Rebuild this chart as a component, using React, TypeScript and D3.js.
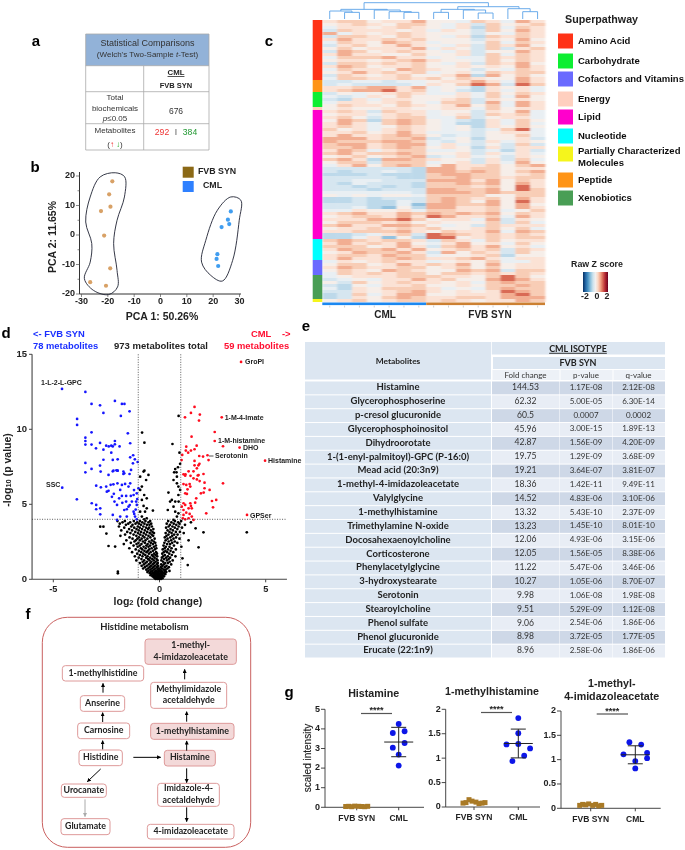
import React from "react";
import * as d3 from "d3";

const ARIAL = "'Liberation Sans', Arial, sans-serif";
const LATO = "Lato, sans-serif";

// Panel b
const pcaBrown = [[-18.3,18.2],[-19.5,13.8],[-19,9.6],[-22.6,8.1],[-21.4,-0.2],[-19.1,-11.3],[-26.7,-16],[-20.7,-17.2]];
const pcaBlue = [[26.7,8],[25.6,5.2],[26.1,3.7],[23.2,2.7],[21.6,-6.5],[21.3,-8.1],[21.9,-10.5]];
const hullBrown = [[-17.2,21.1],[-13.6,19.7],[-13.7,12.9],[-16.5,5],[-17.8,-2.9],[-16.5,-12],[-16.3,-17.6],[-19.7,-20.2],[-25.4,-18.8],[-28.9,-14.8],[-26.7,-9.2],[-26.1,-2.9],[-28.4,4.4],[-26.7,12.9],[-22.9,19.7]];
const hullBlue = [[26.7,12.9],[30.5,11.8],[29.9,5],[27.4,-8.6],[23.5,-15.6],[19.1,-13.7],[15.6,-9.2],[17.2,-1.8],[21.6,8.4]];

// Panel c
const heatRows = [
"677566855476486","567657754637567","466567654627476","376665646537586","846567655535476",
"377657654627676","686676755536585","476587645547476","367568654637685","575666846537367",
"387567654635586","686655755637476","477786645447676","566567865547576","377676754637685",
"687566755656586","476658765535476","568676745647677","376567556828575","477667675765586",
"334434456686486","343333465798397","667886845426564","678896745326464",
"354567644647576","434657555647485","326466556736565","466567547738486","576657656857486",
"565566556647566",
"676376645536584","566467645637674","675367744735664","587278754326475","686478754226474","676457654526575",
"756467654534794","667568644435664","686678753435574",
"888677834525563","877788743536465","788678846435373","778678756526366","687467744534263","786778755636464","567567834645365","786288765536374","577377745636485",
"468578758667578",
"333333288677566","323343288787578","222322278877567","333332277877677","334433388868576","324333277878586","332323277767596","333233388778597","444444388878777","545455477775577",
"223233378767586","223224378758596","333224188778585","334215288667586","446556477667457",
"678668787878576","567768698667486","666889756648365","577767565557374","786688754537666","566767675567574","667778657668487","223467398767676","224615299567677",
"787677637647566","686768546856475","777568637868564","687786856767376","568778638576375","677687745567255","686678766786466",
"465676645657446","577568676858566","687667756757566","576587655878377","476767757767676",
"456667776657975","345466867558986","537567665647877","325466755657787","426577764547877","336567865656987","237468855666897","236578766776888",
"567567767656687"];
const pathwayNames = ["Amino Acid","Carbohydrate","Cofactors and Vitamins","Energy","Lipid","Nucleotide","Partially Characterized","Peptide","Xenobiotics"];
const pathwayColors = ["#FF3319","#11EE33","#6B6BFF","#FFCFBF","#FF00CC","#00FFFF","#F5F51E","#FF9412","#4A9E55"];
const barOrder = ["Amino Acid","Peptide","Carbohydrate","Energy","Lipid","Nucleotide","Cofactors and Vitamins","Xenobiotics","Partially Characterized"];
const barCounts = [20,4,5,1,43,7,5,8,1];
const dendro: any = {h:49,c:[
  {h:29,c:[{h:24,c:[0,{h:20,c:[1,2]}]},{h:27,c:[3,{h:22,c:[4,{h:20,c:[5,6]}]}]}]},
  {h:37,c:[{h:29,c:[{h:20,c:[7,8]},{h:27,c:[9,{h:18,c:[10,11]}]}]},{h:31,c:[12,{h:22,c:[13,14]}]}]}
]};

// Panel d
const blueHits = [[-4.59,12.69],[-3.49,12.49],[-3.2,11.69],[-2.8,11.6],[-2.1,11.89],[-1.77,11.69],[-1.65,11.69],[-1.41,11.2],[-2.64,11.09],[-1.82,10.89],[-3.88,10.69],[-3.88,10.29],[-3.2,9.8],[-1.49,9.73],[-3.49,9.44],[-3.49,9.22],[-3.49,8.98],[-3.2,8.98],[-2.99,8.73],[-2.8,9.09],[-2.64,8.64],[-2.51,8.91],[-2.39,8.86],[-2.27,8.91],[-2.2,8.86],[-2.1,9.22],[-2.1,9],[-1.88,8.86],[-1.38,9.07],[-2.27,8.44],[-2.64,7.97],[-2.2,7.96],[-1.97,8],[-1.38,8.13],[-1.24,8.27],[-1.16,8],[-1.03,7.82],[-1.25,7.73],[-3.49,7.76],[-3.2,7.36],[-2.8,7.58],[-2.77,7.18],[-3.49,7.13],[-2.2,7.2],[-2.03,7.27],[-1.97,7.24],[-1.7,7.18],[-1.7,7.02],[-1.41,7.02],[-1.34,7.29],[-2.4,6.96],[-2.17,7.24],[-1.98,7.24],[-1.66,7.07],[-1.38,6.4],[-1.77,6.29],[-1.98,6.4],[-2.17,6.33],[-2.98,6.24],[-2.76,6.13],[-2.51,6.18],[-2.48,5.84],[-2.4,5.9],[-2.24,5.5],[-2.12,5.18],[-2,4.96],[-1.77,5.56],[-1.57,5.56],[-1.57,5.18],[-1.35,5.56],[-1.22,5.62],[-1.07,5.73],[-0.99,6.07],[-1.3,5.18],[-1.1,5.18],[-1.07,4.96],[-1.46,4.84],[-1.66,4.62],[-1.54,4.67],[-1.22,4.51],[-1.19,4.36],[-1.15,4.18],[-1.07,4],[-2.2,4.29],[-2,3.96],[-1.54,4.18],[-1.85,4.18],[-3.19,5.07],[-2.98,4.96],[-2.98,4.67],[-2.79,4.73],[-2.79,4.33],[-3.89,5.33],[-4.58,6.11],[-1.46,6.18],[-1.62,6.36],[-1.85,5.96],[-2.3,6.3],[-1.2,5.95],[-1.05,5.35],[-1.4,4.95],[-1.75,5.1],[-2.15,5.7],[-1.9,5.4],[-1.12,4.65]];
const redHits = [[3.84,14.49],[2.93,10.8],[1.65,11.49],[1.48,11.09],[1.9,10.98],[1.86,10.58],[1.2,10.8],[2.6,9.82],[1.51,9.51],[2.6,9.22],[2.99,8.87],[3.77,8.78],[4.97,7.91],[1.75,8.91],[1.26,8.84],[1.65,8.67],[1.48,8.58],[1.24,8.58],[1.35,8.44],[1.07,8.29],[1.87,8.22],[2.05,8.18],[2.26,8.27],[2.31,7.95],[1.04,7.95],[1.65,7.89],[1.88,7.7],[1.83,7.6],[1.65,7.6],[1.76,7.4],[1.6,7.2],[1.37,7.2],[1.13,7],[1.22,7],[1.46,6.9],[1.8,6.92],[2.07,7.02],[1.21,6.91],[1.6,6.73],[1.84,6.95],[1.76,6.66],[1.89,6.55],[2.12,6.44],[2.99,6.4],[1.13,6.35],[1.26,6.29],[1.42,6.35],[1.45,6.18],[1.32,6],[1.21,5.73],[1.29,5.69],[1.95,5.73],[2.08,5.78],[2.12,6.07],[2.36,5.96],[1.73,5.4],[1.68,5.11],[2.47,5.22],[2.67,5.29],[2.52,4.8],[2.2,4.4],[4.12,4.29],[1.13,5.07],[1.21,4.96],[1.45,5.07],[1.48,4.89],[1.37,4.73],[1.52,4.73],[1.13,4.62],[1.26,4.44],[1.42,4.36],[1.52,4.18],[1.6,3.96],[1.13,4.29],[1.1,4.07],[1.21,4],[1.37,4.07],[1.05,4.84]];
const blackAbove = [[-0.82,9.78],[-0.71,9.11],[-0.71,7.24],[0.9,10.89],[0.61,9.02],[0.94,8.44],[0.97,7.7],[0.74,7.35],[0.87,7.47],[0.69,7.13],[0.8,7.13],[-0.75,7.18],[-0.52,6.96],[-0.91,6.84],[-0.63,6.62],[-0.83,6.18],[-0.91,5.96],[-0.72,5.62],[-0.83,5.29],[-0.6,5.4],[-0.75,4.89],[-0.91,4.51],[-0.68,4.51],[-0.31,4.58],[-0.6,4.73],[-0.83,4.18],[-0.6,4.07],[-0.72,4],[0.89,6.18],[0.97,5.96],[0.89,5.62],[0.42,5.78],[0.82,6.84],[0.66,6.62],[0.82,6.4],[0.58,5.29],[0.74,5.18],[0.5,5.18],[0.66,4.84],[0.39,4.62],[0.74,4.51],[0.89,4.4],[0.82,4.18],[0.66,3.96],[0.9,5.18]];
const blackLone = [[4.11,3.13],[2.07,3.13],[1.84,2.13],[1.7,3.4],[1.37,2.6],[1.33,0.95],[1.08,1.4],[-1.96,0.51],[-1.96,0.4],[-2.79,3.51],[-2.64,3.51],[-2.4,2.22],[-2.09,2.18],[-2.5,3.05]];
const blackLevels: [number, number[]][] = [
[3.88,[-1.98,-1.63,-1.21,-0.92,-0.66,-0.44,0.41,0.73,1.02]],
[3.8,[-1.74,-1.38,-1.05,-0.81,-0.52,0.56,0.88,1.48]],
[3.71,[-1.87,-1.47,-1.13,-0.97,-0.71,-0.39,0.34,0.67,0.94]],
[3.63,[-1.58,-1.27,-0.87,-0.59,-0.47,0.49,0.79,1.2]],
[3.52,[-1.91,-1.33,-1.02,-0.76,-0.36,0.43,0.61,0.9]],
[3.44,[-1.66,-1.19,-0.93,-0.63,-0.49,0.31,0.72,1.06]],
[3.35,[-1.43,-1.08,-0.82,-0.54,-0.29,0.52,0.84]],
[3.26,[-1.8,-1.29,-0.98,-0.69,-0.41,0.38,0.63]],
[3.16,[-1.52,-1.14,-0.87,-0.58,-0.33,0.47,0.77,0.96]],
[3.08,[-1.37,-1.01,-0.74,-0.46,-0.26,0.29,0.57,1.14]],
[2.98,[-1.62,-1.22,-0.91,-0.64,-0.37,0.42,0.69,0.85]],
[2.9,[-1.84,-1.09,-0.79,-0.52,-0.3,0.33,0.6]],
[2.79,[-1.41,-0.97,-0.71,-0.43,0.25,0.51,0.78]],
[2.71,[-1.27,-1.04,-0.84,-0.57,-0.23,0.38,0.66,0.94]],
[2.6,[-1.56,-1.12,-0.92,-0.66,-0.36,0.29,0.55]],
[2.52,[-1.18,-0.78,-0.49,-0.27,0.43,0.72]],
[2.43,[-1.35,-0.99,-0.69,-0.41,-0.2,0.23,0.6,0.84]],
[2.35,[-1.68,-1.08,-0.85,-0.56,-0.31,0.36,0.5]],
[2.25,[-1.22,-0.93,-0.62,-0.44,-0.17,0.19,0.68]],
[2.17,[-1.03,-0.75,-0.52,-0.26,0.3,0.47,1.03]],
[2.07,[-1.42,-0.88,-0.65,-0.37,-0.15,0.24,0.57]],
[1.99,[-1.12,-0.81,-0.48,-0.22,0.15,0.4,0.77]],
[1.9,[-0.97,-0.71,-0.55,-0.31,0.28,0.52]],
[1.81,[-1.29,-0.86,-0.61,-0.42,-0.16,0.2,0.36,0.65]],
[1.71,[-1.05,-0.76,-0.5,-0.26,-0.12,0.13,0.46]],
[1.62,[-0.92,-0.67,-0.36,-0.19,0.25,0.58]],
[1.53,[-1.16,-0.8,-0.56,-0.3,-0.11,0.17,0.39,0.75]],
[1.44,[-0.98,-0.63,-0.44,-0.23,0.11,0.31,0.5]],
[1.35,[-0.85,-0.54,-0.34,-0.14,0.22,0.43]],
[1.26,[-1.09,-0.72,-0.47,-0.27,-0.09,0.09,0.35,0.62]],
[1.17,[-0.79,-0.59,-0.38,-0.18,0.17,0.48]],
[1.08,[-0.92,-0.66,-0.43,-0.25,-0.08,0.27,0.4]],
[0.99,[-0.74,-0.51,-0.32,-0.13,0.08,0.2,0.55]],
[0.9,[-0.84,-0.6,-0.4,-0.22,-0.06,0.14,0.33]],
[0.81,[-0.69,-0.47,-0.29,-0.11,0.06,0.25,0.44]],
[0.72,[-0.77,-0.54,-0.36,-0.19,-0.04,0.12,0.37]],
[0.64,[-0.62,-0.43,-0.26,-0.09,0.04,0.2,0.29]],
[0.56,[-0.52,-0.34,-0.17,-0.03,0.1,0.26,0.47]],
[0.48,[-0.57,-0.41,-0.24,-0.11,0.03,0.15,0.32]],
[0.41,[-0.46,-0.31,-0.18,-0.06,0.07,0.22]],
[0.34,[-0.38,-0.25,-0.13,-0.01,0.11,0.27]],
[0.27,[-0.42,-0.29,-0.2,-0.08,0.04,0.16]],
[0.2,[-0.33,-0.22,-0.12,-0.03,0.08,0.21]],
[0.13,[-0.26,-0.17,-0.07,0.01,0.12]],
[0.07,[-0.21,-0.13,-0.04,0.05,0.14]],
[0.02,[-0.18,-0.09,-0.01,0.07]],
];

// Panel e
const tableNames = ["Histamine","Glycerophosphoserine","p-cresol glucuronide","Glycerophosphoinositol","Dihydroorotate","1-(1-enyl-palmitoyl)-GPC (P-16:0)","Mead acid (20:3n9)","1-methyl-4-imidazoleacetate","Valylglycine","1-methylhistamine","Trimethylamine N-oxide","Docosahexaenoylcholine","Corticosterone","Phenylacetylglycine","3-hydroxystearate","Serotonin","Stearoylcholine","Phenol sulfate","Phenol glucuronide","Erucate (22:1n9)"];
const foldChange = ["144.53","62.32","60.5","45.96","42.87","19.75","19.21","18.36","14.52","13.32","13.23","12.06","12.05","11.22","10.27","9.98","9.51","9.06","8.98","8.96"];
const pValues = ["1.17E-08","5.00E-05","0.0007","3.00E-15","1.56E-09","1.29E-09","3.64E-07","1.42E-11","4.83E-06","5.43E-10","1.45E-10","4.93E-06","1.56E-05","5.47E-06","1.05E-06","1.06E-08","5.29E-09","2.54E-06","3.72E-05","2.58E-06"];
const qValues = ["2.12E-08","6.30E-14","0.0002","1.89E-13","4.20E-09","3.68E-09","3.81E-07","9.49E-11","3.10E-06","2.37E-09","8.01E-10","3.15E-06","8.38E-06","3.46E-06","8.70E-07","1.98E-08","1.12E-08","1.86E-06","1.77E-05","1.86E-06"];

// Panel g
const gCategories = ["FVB SYN","CML"];
const g1Ctl = [0.04,0.05,0.03,0.06,0.05,0.04,0.03,0.05];
const g1Cml = [4.25,3.79,3.88,3.28,3.04,2.69,2.13];
const g1Col = [0,-1,1,1,-1,0,0];
const g2Ctl = [0.08,0.09,0.15,0.12,0.1,0.07,0.08,0.09];
const g2Cml = [1.82,1.51,1.28,1.29,1.2,1.05,0.94];
const g2Col = [0,0,-1,0,1,0.5,-0.5];
const g3Ctl = [0.06,0.08,0.07,0.09,0.06,0.08,0.05,0.06];
const g3Cml = [1.36,1.31,1.14,1.11,1.03,0.97,0.82];
const g3Col = [-0.5,0.5,1,-1,1,0,0];

const T = ({x,y,s,w,a,c,f,children,...r}: any) => (
  <text x={x} y={y} fontSize={s} fontWeight={w ? "bold" : "normal"} textAnchor={a || "start"} fill={c || "#222"} fontFamily={f || ARIAL} dominantBaseline="middle" {...r}>{children}</text>
);

function PanelA() {
  const y = [34,65.7,91.7,123.7,150];
  return <g>
    <rect x={85.7} y={34} width={123.3} height={31.7} fill="#92B2D8"/>
    {y.map(v => <line key={v} x1={85.7} x2={209} y1={v} y2={v} stroke="#aaa" strokeWidth={0.8}/>)}
    {[85.7,143.7,209].map(v => <line key={v} x1={v} x2={v} y1={v===143.7?65.7:34} y2={150} stroke="#aaa" strokeWidth={0.8}/>)}
    <T x={147.5} y={43.5} s={9} a="middle" c="#333">Statistical  Comparisons</T>
    <T x={147.5} y={55} s={8} a="middle" c="#333">(Welch's Two-Sample <tspan fontStyle="italic">t</tspan>-Test)</T>
    <T x={176} y={73} s={7.8} w a="middle" textDecoration="underline">CML</T>
    <T x={176} y={86} s={7.5} w a="middle">FVB SYN</T>
    <T x={115} y={98} s={8} a="middle" c="#333">Total</T>
    <T x={115} y={108.5} s={8} a="middle" c="#333">biochemicals</T>
    <T x={115} y={119} s={8} a="middle" c="#333"><tspan fontStyle="italic">p</tspan>≤0.05</T>
    <T x={176} y={112} s={8.5} a="middle" c="#333">676</T>
    <T x={115} y={131} s={8} a="middle" c="#333">Metabolites</T>
    <T x={115} y={145} s={8} a="middle" c="#333">(<tspan fill="#e33">↑</tspan> <tspan fill="#2a2">↓</tspan>)</T>
    <T x={162} y={133} s={8.6} a="middle" c="#ee3333">292</T>
    <T x={176} y={133} s={8.6} a="middle" c="#555">I</T>
    <T x={190} y={133} s={8.6} a="middle" c="#229933">384</T>
  </g>;
}

function PanelB() {
  const x = d3.scaleLinear().domain([-30,30]).range([81.5,239.5]);
  const y = d3.scaleLinear().domain([-20,20]).range([294,176]);
  const hull = d3.line<number[]>().x(d => x(d[0])).y(d => y(d[1])).curve(d3.curveCatmullRomClosed.alpha(0.5));
  return <g>
    <line x1={79.5} x2={79.5} y1={172} y2={294} stroke="#333"/>
    <line x1={79.5} x2={241} y1={294} y2={294} stroke="#333"/>
    {d3.range(-20,21,5).map(v => <line key={v} x1={v%10===0?76:77.5} x2={79.5} y1={y(v)} y2={y(v)} stroke="#555" strokeWidth={0.7}/>)}
    {d3.range(-30,31,10).map(v => <line key={v} x1={x(v)} x2={x(v)} y1={294} y2={297} stroke="#555" strokeWidth={0.7}/>)}
    {d3.range(-20,21,10).map(v => <T key={v} x={75} y={v===-20?294:y(v)} s={9} w a="end">{v}</T>)}
    {d3.range(-30,31,10).map(v => <T key={v} x={x(v)} y={302} s={9} w a="middle">{v}</T>)}
    <path d={hull(hullBrown)!} fill="none" stroke="#1f2233" strokeWidth={0.9}/>
    <path d={hull(hullBlue)!} fill="none" stroke="#1f2233" strokeWidth={0.9}/>
    {pcaBrown.map((d,i) => <circle key={i} cx={x(d[0])} cy={y(d[1])} r={2.1} fill="#D8A166"/>)}
    {pcaBlue.map((d,i) => <circle key={i} cx={x(d[0])} cy={y(d[1])} r={2.1} fill="#3F9DF0"/>)}
    <rect x={182.7} y={166.7} width={11} height={11} fill="#8B6914"/>
    <rect x={182.7} y={181} width={11} height={11} fill="#2F80FF"/>
    <T x={198} y={172} s={8.8} w>FVB SYN</T>
    <T x={203} y={186} s={8.8} w>CML</T>
    <T x={162} y={317} s={10.5} w a="middle">PCA 1: 50.26%</T>
    <T x={0} y={0} s={10.5} w a="middle" transform="translate(53,237) rotate(-90)">PCA 2: 11.65%</T>
  </g>;
}

function PanelC() {
  const nCols = 15;
  const x = d3.scaleLinear().domain([0,nCols]).range([322.3,545]);
  const y = d3.scaleLinear().domain([0,heatRows.length]).range([20,302]);
  const color = d3.scaleLinear<string>().domain([0,1,2,3,4,5,6,7,8,9]).range(["#5C9FCF","#94C2DF","#BDD9EA","#D6E6F0","#E9EFF3","#F6EEE9","#FBE2D5","#F8CDB6","#F2AE92","#D96A55"]);
  const hy = d3.scaleLinear().domain([0,49]).range([19,2.7]);
  const cx = (i: number) => x(i + 0.5);
  const segs: string[] = [];
  const walk = (n: any): number => {
    if (typeof n === "number") return cx(n);
    const a = walk(n.c[0]), b = walk(n.c[1]);
    const base = (k: any) => typeof k === "number" ? hy(0) : hy(k.h);
    segs.push(`M${a},${base(n.c[0])}V${hy(n.h)}H${b}V${base(n.c[1])}`);
    return (a + b) / 2;
  };
  walk(dendro);
  let cum = 0;
  const zColor = (t: number) => d3.interpolateRdBu(1 - t);
  const lgY = [41,61,79,99,117,136,154,180,198];
  const stops = d3.range(0,1.001,0.1);
  return <g>
    <defs>
      <linearGradient id="zg"><stop offset="0" stopColor="#053061"/>{stops.map(t => <stop key={t} offset={t} stopColor={zColor(t)}/>)}</linearGradient>
      <filter id="soft" x="-2%" y="-2%" width="104%" height="104%"><feGaussianBlur stdDeviation="0.8 0.5"/></filter>
    </defs>
    <path d={segs.join("")} fill="none" stroke="#5BA3E8" strokeWidth={0.9}/>
    <g filter="url(#soft)">
      {heatRows.map((r,i) => d3.range(nCols).map(j =>
        <rect key={i+"-"+j} x={x(j)} y={y(i)} width={x(1)-x(0)+0.3} height={y(1)-y(0)+0.2} fill={color(+r[j])}/>))}
    </g>
    {barOrder.map((n,i) => {
      const y0 = y(cum); cum += barCounts[i];
      return <rect key={n} x={312.7} y={y0} width={9.6} height={y(cum)-y0} fill={pathwayColors[pathwayNames.indexOf(n)]}/>;
    })}
    <rect x={322.3} y={302.5} width={x(7)-322.3} height={2.6} fill="#1E88F0"/>
    <rect x={x(7)} y={302.5} width={545-x(7)} height={2.6} fill="#CC8033"/>
    {d3.range(nCols).map(j => <line key={j} x1={cx(j)} x2={cx(j)} y1={305.5} y2={307.5} stroke="#bbb" strokeWidth={0.7}/>)}
    <T x={385} y={315} s={10} w a="middle">CML</T>
    <T x={490} y={315} s={10} w a="middle">FVB SYN</T>
    <T x={565} y={20} s={10.7} w>Superpathway</T>
    {pathwayNames.map((n,i) => <g key={n}>
      <rect x={558} y={lgY[i]-7.5} width={15} height={15} fill={pathwayColors[i]}/>
      <T x={578} y={lgY[i]-(i===6?3:0)} s={9.5} w c="#111">{n}</T>
    </g>)}
    <T x={578} y={163} s={9.5} w c="#111">Molecules</T>
    <T x={597} y={264.5} s={8.8} w a="middle">Raw Z score</T>
    <rect x={583} y={272} width={25} height={20} fill="url(#zg)"/>
    <T x={585} y={297} s={8.8} w a="middle">-2</T>
    <T x={597} y={297} s={8.8} w a="middle">0</T>
    <T x={607} y={297} s={8.8} w a="middle">2</T>
  </g>;
}

function PanelD() {
  const x = d3.scaleLinear().domain([-5,5]).range([53.3,265.7]);
  const y = d3.scaleLinear().domain([0,15]).range([579.3,354.3]);
  const black = blackLevels.flatMap(([v,xs]) => xs.map(k => [k,v]));
  const xL = x(-6), xR = x(6);
  return <g>
    <line x1={xL} x2={xL} y1={y(15)} y2={y(0)} stroke="#444" strokeWidth={1.1}/>
    <line x1={xL} x2={xR} y1={y(0)} y2={y(0)} stroke="#444" strokeWidth={1.1}/>
    {[0,5,10,15].map(v => <g key={v}><line x1={xL-3} x2={xL} y1={y(v)} y2={y(v)} stroke="#444"/><T x={27} y={y(v)} s={9.5} w a="end">{v}</T></g>)}
    {[-5,0,5].map(v => <g key={v}><line x1={x(v)} x2={x(v)} y1={y(0)} y2={y(0)+3} stroke="#444"/><T x={x(v)} y={589.5} s={9.2} w a="middle">{v}</T></g>)}
    {[...black,...blackAbove,...blackLone].map((d,i) => <circle key={"k"+i} cx={x(d[0])} cy={y(d[1])} r={1.35} fill="#000"/>)}
    {blueHits.map((d,i) => <circle key={"b"+i} cx={x(d[0])} cy={y(d[1])} r={1.35} fill="#1515FF"/>)}
    {redHits.map((d,i) => <circle key={"r"+i} cx={x(d[0])} cy={y(d[1])} r={1.35} fill="#FF0A1E"/>)}
    <line x1={x(-1)} x2={x(-1)} y1={y(15)} y2={y(0)} stroke="#333" strokeWidth={0.8} strokeDasharray="1 1.5"/>
    <line x1={x(1)} x2={x(1)} y1={y(15)} y2={y(0)} stroke="#333" strokeWidth={0.8} strokeDasharray="1 1.5"/>
    <line x1={xL} x2={xR} y1={y(4)} y2={y(4)} stroke="#333" strokeWidth={0.8} strokeDasharray="1 1.5"/>
    <T x={33} y={335} s={9.4} w c="#1a2fff">{"<-  FVB SYN"}</T>
    <T x={33} y={347} s={9.4} w c="#1a2fff">78 metabolites</T>
    <T x={114} y={346} s={9.5} w>973 metabolites total</T>
    <T x={251} y={335} s={9.4} w c="#ff1030">CML</T>
    <T x={282} y={335} s={9.4} w c="#ff1030">-&gt;</T>
    <T x={224} y={347} s={9.4} w c="#ff1030">59 metabolites</T>
    <T x={245} y={362.5} s={7} w>GroPI</T>
    <T x={224.7} y={418} s={7} w>1-M-4-Imate</T>
    <T x={218} y={441} s={7} w>1-M-histamine</T>
    <T x={243} y={448.5} s={7} w>DHO</T>
    <T x={215} y={456.5} s={7} w>Serotonin</T>
    <line x1={209} x2={213.5} y1={456} y2={456} stroke="#222" strokeWidth={0.8}/>
    <T x={268} y={461.5} s={7} w>Histamine</T>
    <T x={250} y={516} s={7} w>GPSer</T>
    <T x={46} y={485.5} s={7} w>SSC</T>
    <T x={41} y={383} s={7} w>1-L-2-L-GPC</T>
    <T x={158} y={602} s={10.5} w a="middle">log<tspan fontSize={7.5} dy={1}>2</tspan><tspan dy={-1}> (fold change)</tspan></T>
    <T x={0} y={0} s={10.5} w a="middle" transform="translate(8,470) rotate(-90)">-log<tspan fontSize={7.5} dy={1}>10</tspan><tspan dy={-1}> (p value)</tspan></T>
  </g>;
}

function PanelE() {
  const X = [305,491.5,559.5,612.5,665];
  const y0 = 381.5, rh = 13.85;
  const y = d3.scaleLinear().domain([0,1]).range([y0,y0+rh]);
  return <g>
    <rect x={305} y={342} width={186} height={37.5} fill="#DCE6F1"/>
    <rect x={491.8} y={342} width={173.2} height={12.5} fill="#DCE6F1"/>
    <rect x={493} y={357} width={172} height={12} fill="#DCE6F1"/>
    {[0,1,2].map(k => <rect key={k} x={X[k+1]+1} y={370} width={X[k+2]-X[k+1]-1} height={10} fill="#EDF1F7"/>)}
    <T x={398} y={361.5} s={8.4} w a="middle" f={LATO}>Metabolites</T>
    <T x={578} y={349.5} s={9} w a="middle" f={LATO} textDecoration="underline">CML ISOTYPE</T>
    <T x={578} y={363.5} s={9} w a="middle" f={LATO}>FVB SYN</T>
    <T x={525.5} y={375.5} s={8} a="middle" f={LATO} c="#333">Fold change</T>
    <T x={586} y={375.5} s={8} a="middle" f={LATO} c="#333">p-value</T>
    <T x={638.5} y={375.5} s={8} a="middle" f={LATO} c="#333">q-value</T>
    {tableNames.map((n,i) => <g key={n}>
      <rect x={305} y={y(i)} width={186} height={rh-1} fill="#DCE6F1"/>
      {[0,1,2].map(k => <rect key={k} x={X[k+1]+0.5} y={y(i)} width={X[k+2]-X[k+1]-0.5} height={rh-1} fill={i%2===0?"#CED8E7":"#E8EDF5"}/>)}
      <T x={398} y={y(i)+6.4} s={9.5} w a="middle" f={LATO}>{n}</T>
      <T x={525.5} y={y(i)+6.4} s={8.6} a="middle" f={LATO} c="#333">{foldChange[i]}</T>
      <T x={586} y={y(i)+6.4} s={8} a="middle" f={LATO} c="#333">{pValues[i]}</T>
      <T x={638.5} y={y(i)+6.4} s={8} a="middle" f={LATO} c="#333">{qValues[i]}</T>
    </g>)}
  </g>;
}

const boxes: [number,number,number,number,boolean,string[]][] = [
  [435,709,117,193,true,["1-methyl-","4-imidazoleacetate"]],
  [187,431,197,243,false,["1-methylhistidine"]],
  [452,680,247,325,false,["Methylimidazole","acetaldehyde"]],
  [241,374,287,334,false,["Anserine"]],
  [233,389,369,416,false,["Carnosine"]],
  [452,702,370,418,true,["1-methylhistamine"]],
  [237,367,450,497,false,["Histidine"]],
  [493,646,451,498,true,["Histamine"]],
  [184,319,552,592,false,["Urocanate"]],
  [473,658,550,619,false,["Imidazole-4-","acetaldehyde"]],
  [183,330,656,704,false,["Glutamate"]],
  [442,702,673,717,false,["4-imidazoleacetate"]],
];
const arrows: [number,number,number,number,string][] = [
  [554,238,554,208,"#000"],[309,278,309,250,"#000"],[308,366,308,338,"#000"],[308,448,308,422,"#000"],
  [560,365,560,335,"#000"],[560,452,560,423,"#000"],[400,472,482,472,"#000"],[302,507,262,545,"#000"],
  [255,598,255,650,"#aaa"],[560,505,560,548,"#000"],[560,622,560,665,"#000"],
];
function PanelF() {
  const px = (v: number) => v / 3, py = (v: number) => 600 + v / 3;
  return <g>
    <defs><marker id="ah" markerWidth="5" markerHeight="5" refX="3.6" refY="2" orient="auto"><path d="M0,0L4,2L0,4Z" fill="context-stroke"/></marker></defs>
    <rect x={42.3} y={617.3} width={208.4} height={230} rx={25} fill="#fff" stroke="#C9605F" strokeWidth={1}/>
    <T x={144.5} y={628} s={9.4} w a="middle" f={LATO}>Histidine metabolism</T>
    {boxes.map(([a,b,c,d,fill,t]) => <g key={t[0]}>
      <rect x={px(a)} y={py(c)} width={px(b-a)} height={px(d-c)} rx={3} fill={fill?"#F3D9D9":"#fff"} stroke="#DE9A9A" strokeWidth={1}/>
      {t.map((s,i) => <T key={s} x={px((a+b)/2)} y={py((c+d)/2)+(i-(t.length-1)/2)*11.5} s={8.8} w a="middle" f={LATO}>{s}</T>)}
    </g>)}
    {arrows.map((a,i) => <line key={i} x1={px(a[0])} y1={py(a[1])} x2={px(a[2])} y2={py(a[3])} stroke={a[4]} strokeWidth={1} markerEnd="url(#ah)"/>)}
  </g>;
}

function Dot({ ctl, cml, col, top, axisX, axisEnd, y0, y1, dom, ticks, cat, swarm, title, sig, sigY, mean, err, colW }: any) {
  const y = d3.scaleLinear().domain(dom).range([y0,y1]);
  const x = d3.scalePoint().domain(gCategories).range(cat);
  const fmt = (v: number) => String(v);
  const cx = x("CML")!, fx = x("FVB SYN")!;
  return <g>
    <line x1={axisX} x2={axisX} y1={y1} y2={y0} stroke="#333" strokeWidth={0.9}/>
    <line x1={axisX} x2={axisEnd} y1={y0} y2={y0} stroke="#333" strokeWidth={0.9}/>
    {ticks.map((t: number) => <g key={t}><line x1={axisX-4} x2={axisX} y1={y(t)} y2={y(t)} stroke="#333" strokeWidth={0.9}/><T x={axisX-5} y={y(t)} s={9} w a="end">{fmt(t)}</T></g>)}
    {gCategories.map(c => <g key={c}><line x1={x(c)!} x2={x(c)!} y1={y0} y2={y0+3} stroke="#333" strokeWidth={0.9}/><T x={x(c)!} y={y0+11} s={8.5} w a="middle">{c}</T></g>)}
    {ctl.map((v: number,i: number) => <rect key={i} x={fx+swarm[i]-2.5} y={y(v)-2.5} width={5} height={5} fill="#A97A28"/>)}
    {cml.map((v: number,i: number) => <circle key={i} cx={cx+col[i]*colW} cy={y(v)} r={2.9} fill="#0A14E8"/>)}
    <line x1={cx-14.5} x2={cx+14.5} y1={y(mean)} y2={y(mean)} stroke="#222" strokeWidth={1}/>
    <line x1={cx} x2={cx} y1={y(mean+err)} y2={y(mean-err)} stroke="#222" strokeWidth={1}/>
    <line x1={cx-7.5} x2={cx+7.5} y1={y(mean+err)} y2={y(mean+err)} stroke="#222" strokeWidth={1}/>
    <line x1={cx-7.5} x2={cx+7.5} y1={y(mean-err)} y2={y(mean-err)} stroke="#222" strokeWidth={1}/>
    <line x1={sig[0]} x2={sig[1]} y1={sigY} y2={sigY} stroke="#555" strokeWidth={1.2}/>
    <T x={(sig[0]+sig[1])/2} y={sigY-2.5} s={9} w a="middle">****</T>
    {title.map((t: string,i: number) => <T key={t} x={top[0]} y={top[1]+i*13} s={10.7} w a="middle">{t}</T>)}
  </g>;
}

function PanelG() {
  const sw = [-11,-8,-5,-2,2,5,8,11];
  return <g>
    <T x={0} y={0} s={10} a="middle" transform="translate(308,758) rotate(-90)" stroke="#222" strokeWidth={0.15}>scaled intensity</T>
    <Dot ctl={g1Ctl} cml={g1Cml} col={g1Col} colW={5.9} top={[373.7,694]} axisX={325} axisEnd={424} y0={807.3} y1={709.3} dom={[0,5]} ticks={[0,1,2,3,4,5]} cat={[356.7,398.7]} swarm={sw} title={["Histamine"]} sig={[361,392]} sigY={713.5} mean={3.33} err={0.75}/>
    <Dot ctl={g2Ctl} cml={g2Cml} col={g2Col} colW={11.8} top={[492,692]} axisX={445.7} axisEnd={540} y0={807} y1={709.3} dom={[0,2]} ticks={[0,0.5,1,1.5,2]} cat={[474,518.3]} swarm={sw} title={["1-methylhistamine"]} sig={[481,512]} sigY={712.5} mean={1.3} err={0.295}/>
    <Dot ctl={g3Ctl} cml={g3Cml} col={g3Col} colW={11.8} top={[611.7,684.5]} axisX={561} axisEnd={660.7} y0={808.3} y1={711} dom={[0,2]} ticks={[0,0.5,1,1.5,2]} cat={[590.7,635.3]} swarm={sw} title={["1-methyl-","4-imidazoleacetate"]} sig={[596.7,628]} sigY={714} mean={1.1} err={0.185}/>
  </g>;
}

export default function App() {
  const labels: [string,number,number][] = [["a",36,42],["b",35,168],["c",269,42],["d",6,334],["e",306,327],["f",28,615],["g",289,693]];
  return (
    <svg width={685} height={850} viewBox="0 0 685 850" style={{position:"absolute",left:0,top:0,display:"block",background:"#fff"}}>
      <defs><filter id="all" x="0" y="0" width="100%" height="100%"><feGaussianBlur stdDeviation="0.3"/></filter></defs>
      <g filter="url(#all)">
        <PanelA/><PanelB/><PanelC/><PanelD/><PanelE/><PanelF/><PanelG/>
        {labels.map(([t,x,y]) => <T key={t} x={x} y={y} s={15} w a="middle" c="#000">{t}</T>)}
      </g>
    </svg>
  );
}
